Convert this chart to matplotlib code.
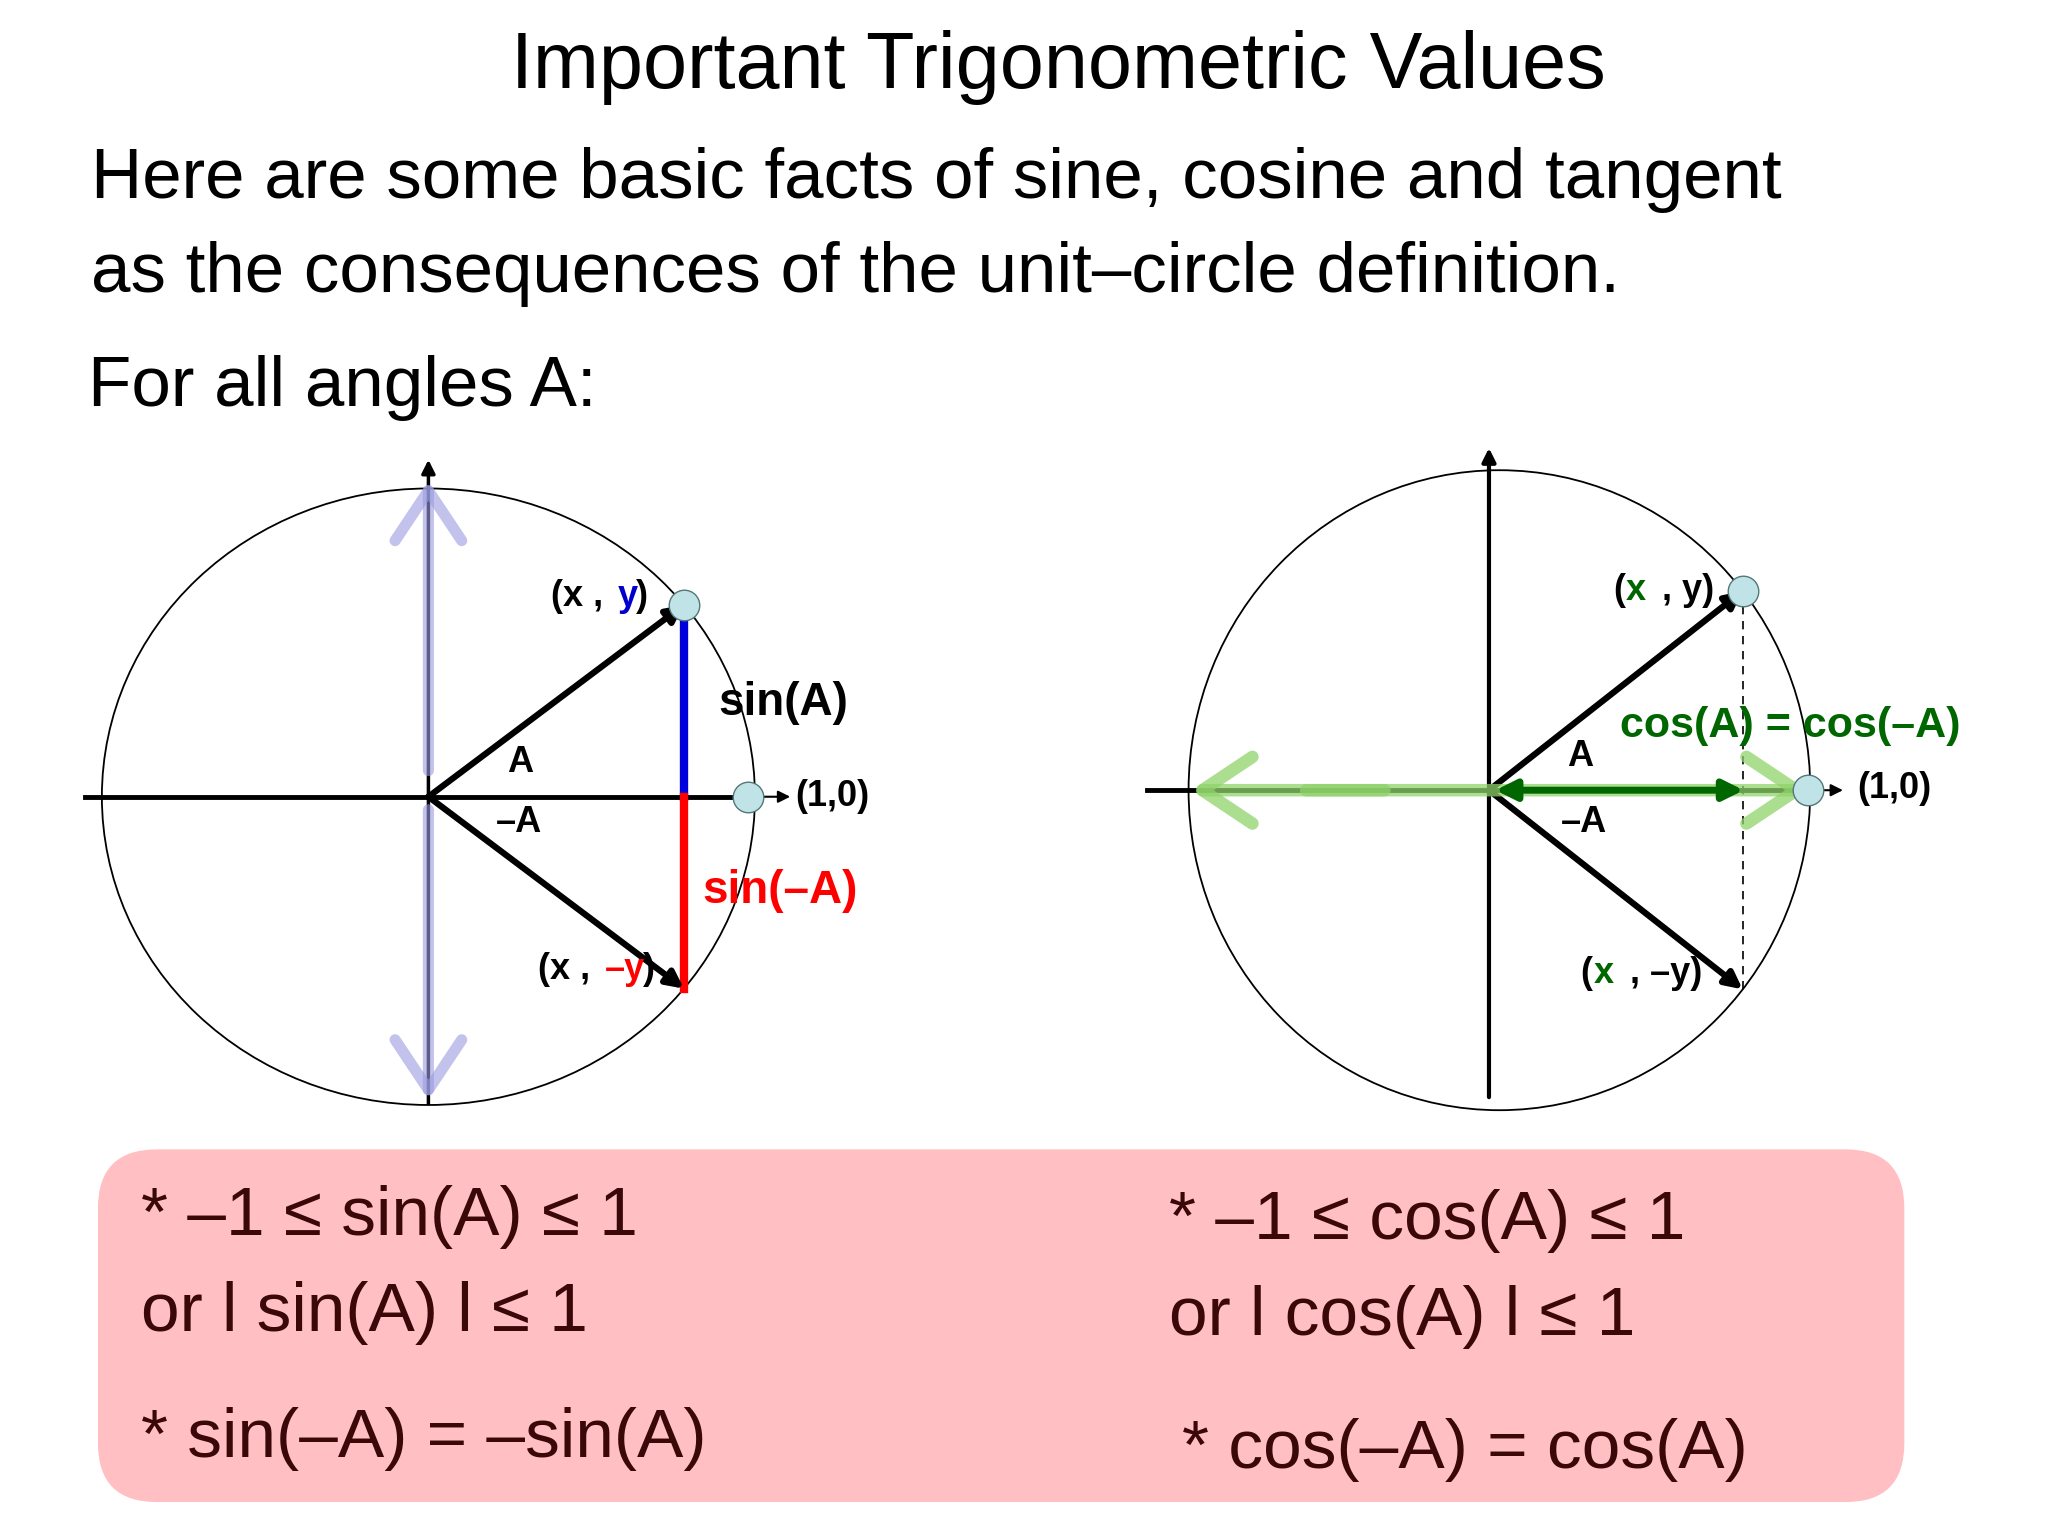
import numpy as np
import matplotlib
matplotlib.use("Agg")
import matplotlib.pyplot as plt
from matplotlib.patches import Ellipse, FancyBboxPatch

plt.rcParams['font.family'] = ['Liberation Sans', 'DejaVu Sans']

title = "Important Trigonometric Values"
subtitle = ["Here are some basic facts of sine, cosine and tangent",
            "as the consequences of the unit\u2013circle definition."]
lead = "For all angles A:"
angle_A_deg = 38.5
left_labels = ["(x , ", "y", ")", "(x , ", "\u2013y", ")", "sin(A)", "sin(\u2013A)", "A", "\u2013A", "(1,0)"]
right_labels = ["cos(A) = cos(\u2013A)", "A", "\u2013A", "(1,0)"]
box_left = ["* \u20131 \u2264 sin(A) \u2264 1", "or l sin(A) l \u2264 1", "* sin(\u2013A) = \u2013sin(A)"]
box_right = ["* \u20131 \u2264 cos(A) \u2264 1", "or l cos(A) l \u2264 1", "* cos(\u2013A) = cos(A)"]

fig = plt.figure(figsize=(20.48, 15.36), dpi=100)
ax = fig.add_axes([0, 0, 1, 1])
ax.set_xlim(0, 1568); ax.set_ylim(1176, 0); ax.axis('off')

ax.text(810, 52, title, fontsize=57, ha='center', va='center')
ax.text(70, 138, subtitle[0], fontsize=51, va='center')
ax.text(70, 210, subtitle[1], fontsize=51, va='center')
ax.text(67, 297, lead, fontsize=51, va='center')

A = np.radians(angle_A_deg)
def arrow(p0, p1, color='black', lw=4, style='-|>', ms=25, alpha=1, z=3):
    ax.annotate('', xy=p1, xytext=p0, zorder=z,
                arrowprops=dict(arrowstyle=style, color=color, lw=lw, mutation_scale=ms,
                                shrinkA=0, shrinkB=0, alpha=alpha))

# ---- left diagram
cx, cy, rx, ry = 328, 610, 250, 236
ax.add_patch(Ellipse((cx, cy), 2*rx, 2*ry, fill=False, lw=1.3, color='black'))
px, py = cx + rx*np.cos(A), cy - ry*np.sin(A)
qy = cy + ry*np.sin(A)
ax.plot([65, cx+rx-5], [cy, cy], color='black', lw=3.5)
arrow((cx+rx, cy), (cx+rx+27, cy), lw=1.5, ms=18)
arrow((cx, 845), (cx, 352), lw=2.5, ms=20)
arrow((cx, 590), (cx, 368), color='#9a9ae0', lw=8, style='->,head_length=0.9,head_width=0.6', ms=40, alpha=0.6, z=4)
arrow((cx, 620), (cx, 842), color='#9a9ae0', lw=8, style='->,head_length=0.9,head_width=0.6', ms=40, alpha=0.6, z=4)
ax.plot([px, px], [cy, py], color='#0000dd', lw=6, zorder=2)
ax.plot([px, px], [cy, qy], color='#ff0000', lw=6, zorder=2)
arrow((cx, cy), (px, py), lw=4.5)
arrow((cx, cy), (px, qy), lw=4.5)
ax.plot([px, cx+rx-5], [py, cy], 'o', ms=22, mfc='#bfe3e6', mec='#557777', zorder=5)
b = dict(fontsize=26, fontweight='bold', va='center')
ax.text(422, 457, "(x , ", **b); ax.text(473, 457, "y", color='#0000cc', **b); ax.text(487, 457, ")", **b)
ax.text(412, 742, "(x , ", **b); ax.text(463, 742, "\u2013y", color='#ff0000', **b); ax.text(492, 742, ")", **b)
ax.text(550, 538, "sin(A)", fontsize=33, fontweight='bold', va='center')
ax.text(538, 682, "sin(\u2013A)", fontsize=33, fontweight='bold', va='center', color='#ff0000')
ax.text(388, 584, "A", **b); ax.text(380, 630, "\u2013A", **b)
ax.text(609, 610, "(1,0)", **b)

# ---- right diagram
cx, cy, rx, ry = 1148, 605, 238, 245
ax.add_patch(Ellipse((cx, cy), 2*rx, 2*ry, fill=False, lw=1.3, color='black'))
px, py = cx + rx*np.cos(A), cy - ry*np.sin(A)
qy = cy + ry*np.sin(A)
ax.plot([878, cx+rx-5], [cy, cy], color='black', lw=3.5)
arrow((cx+rx, cy), (cx+rx+25, cy), lw=1.5, ms=18)
arrow((1140, 840), (1140, 343), lw=3, ms=20)
ax.plot([px, px], [py, qy+5], color='black', lw=1.2, ls=(0, (5, 4)))
arrow((1060, cy), (912, cy), color='#8fd36a', lw=9, style='->,head_length=0.9,head_width=0.6', ms=40, alpha=0.75, z=4)
arrow((1000, cy), (1384, cy), color='#8fd36a', lw=9, style='->,head_length=0.9,head_width=0.6', ms=40, alpha=0.75, z=4)
arrow((1145, cy), (1335, cy), color='#006600', lw=5, style='<|-|>', ms=30, z=5)
arrow((1140, cy), (px, py), lw=4.5)
arrow((1140, cy), (px, qy), lw=4.5)
ax.plot([px, cx+rx-2], [py, cy], 'o', ms=22, mfc='#bfe3e6', mec='#557777', zorder=6)
ax.text(1235, 452, "(", **b); ax.text(1245, 452, "x", color='#006600', **b); ax.text(1265, 452, " , y)", **b)
ax.text(1210, 745, "(", **b); ax.text(1220, 745, "x", color='#006600', **b); ax.text(1240, 745, " , \u2013y)", **b)
ax.text(1240, 556, right_labels[0], fontsize=31, fontweight='bold', color='#006600', va='center')
ax.text(1200, 579, "A", **b); ax.text(1195, 630, "\u2013A", **b)
ax.text(1422, 604, "(1,0)", **b)

# ---- box
ax.add_patch(FancyBboxPatch((75, 880), 1383, 270, boxstyle="round,pad=0,rounding_size=45",
                            fc='#ffbfc3', ec='none', zorder=0))
tc = '#3a0808'
for t, y in zip(box_left, [932, 1005, 1102]):
    ax.text(108, y, t, fontsize=50, color=tc, va='center')
for t, (x, y) in zip(box_right, [(895, 935), (895, 1008), (905, 1110)]):
    ax.text(x, y, t, fontsize=50, color=tc, va='center')

fig.savefig("out.png", dpi=100)
